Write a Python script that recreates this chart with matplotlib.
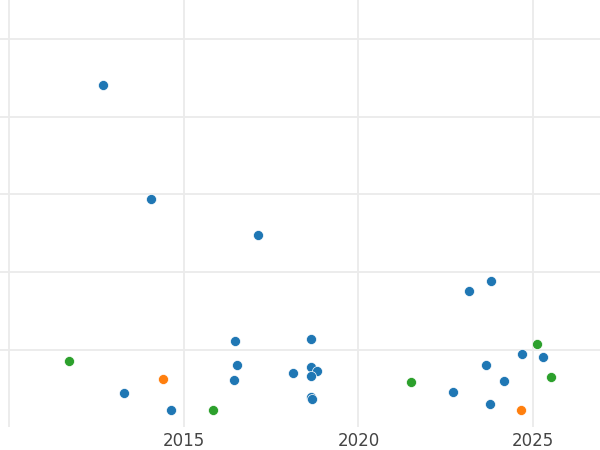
import matplotlib
matplotlib.use("Agg")
import matplotlib.pyplot as plt

blue_x = [2012.69, 2014.06, 2017.13, 2023.16, 2023.79, 2016.47, 2018.64, 2016.53,
          2016.43, 2013.30, 2014.63, 2018.14, 2018.64, 2018.82, 2018.64, 2018.64,
          2018.68, 2022.72, 2023.64, 2024.68, 2025.28, 2024.17, 2023.77]
blue_y = [4.403, 2.936, 2.476, 1.752, 1.888, 1.116, 1.142, 0.807,
          0.606, 0.447, 0.228, 0.696, 0.781, 0.722, 0.662, 0.395,
          0.369, 0.456, 0.799, 0.945, 0.910, 0.601, 0.305]
orange_x = [2014.40, 2024.65]
orange_y = [0.619, 0.224]
green_x = [2011.73, 2015.85, 2021.51, 2025.12, 2025.52]
green_y = [0.858, 0.228, 0.584, 1.069, 0.649]

xticks = [2010, 2015, 2020, 2025]
xticklabels = ["", "2015", "2020", "2025"]
yticks = [1, 2, 3, 4, 5]

fig = plt.figure(figsize=(6, 4.5), dpi=100)
ax = fig.add_axes([0, 0.0502, 1, 0.9498])

for xs, ys, c in [(blue_x, blue_y, "#1f77b4"), (orange_x, orange_y, "#ff7f0e"),
                  (green_x, green_y, "#2ca02c")]:
    ax.scatter(xs, ys, s=52, color=c, edgecolor="white", linewidth=0.5, zorder=3)

ax.set_xlim(2009.745, 2026.913)
ax.set_ylim(0, 5.5)
ax.set_xticks(xticks)
ax.set_xticklabels(xticklabels)
ax.set_yticks(yticks)
ax.set_yticklabels([])
ax.grid(True, color="#ebebeb", linewidth=1.3, zorder=0)
ax.set_axisbelow(True)
for s in ax.spines.values():
    s.set_visible(False)
ax.tick_params(axis="both", length=0, labelsize=12, labelcolor="#444444", pad=3.5)

fig.savefig("out.png", dpi=100)
